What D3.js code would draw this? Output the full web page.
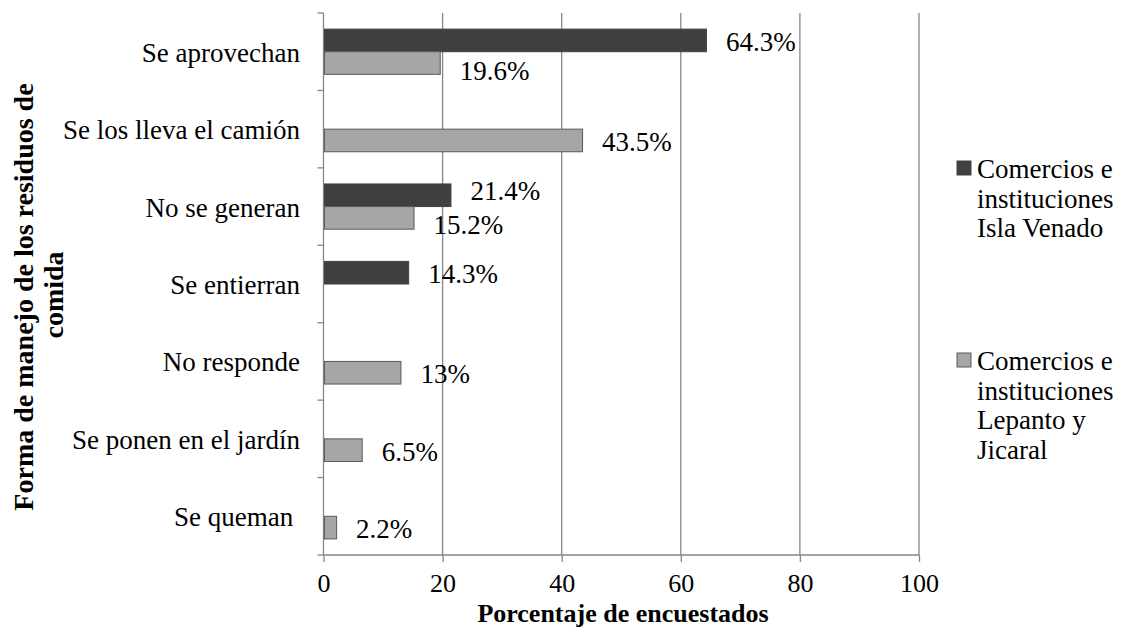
<!DOCTYPE html>
<html><head><meta charset="utf-8">
<script src="https://cdn.jsdelivr.net/npm/d3@7"></script>
<style>
body{margin:0;background:#fff;}
svg{font-family:"Liberation Serif","Times New Roman",serif;}
text{white-space:pre;}
</style></head>
<body><svg id="c" width="1130" height="627"></svg>
<script>
const categories = ["Se aprovechan","Se los lleva el camión","No se generan","Se entierran","No responde","Se ponen en el jardín","Se queman "];
const seriesNames = ["Comercios e instituciones Isla Venado","Comercios e instituciones Lepanto y Jicaral"];
const islaVenado = [64.3, null, 21.4, 14.3, null, null, null];
const lepantoJicaral = [19.6, 43.5, 15.2, null, 13, 6.5, 2.2];
const valueLabels = [["64.3%", null, "21.4%", "14.3%", null, null, null],["19.6%","43.5%","15.2%",null,"13%","6.5%","2.2%"]];
const xTicks = [0,20,40,60,80,100];
const legendLines = [["Comercios e","instituciones","Isla Venado"],["Comercios e","instituciones","Lepanto y","Jicaral"]];
const xTitle = "Porcentaje de encuestados";
const yTitleLines = ["Forma de manejo de los residuos de","comida"];

const fills = ["#404040","#a6a6a6"];
const strokes = ["#404040","#595959"];
const FS = 27;
const svg = d3.select("#c");
const x = d3.scaleLinear().domain([0,100]).range([323.5,919]);
const y = d3.scaleBand().domain(categories).range([13,555]).paddingInner(0.416).paddingOuter(0.208);
const ys = d3.scaleBand().domain([0,1]).range([0,y.bandwidth()]);
const gridColor = "#868686";

// gridlines
svg.append("g").selectAll("line").data(xTicks.slice(1)).join("line")
  .attr("x1",d=>x(d)).attr("x2",d=>x(d)).attr("y1",13).attr("y2",555)
  .attr("stroke",gridColor).attr("stroke-width",1.3);

// y axis
const yAxisG = svg.append("g").attr("transform","translate("+x(0)+",0)");
yAxisG.append("line").attr("x1",0).attr("x2",0).attr("y1",13).attr("y2",555).attr("stroke",gridColor).attr("stroke-width",1.3);
const catBounds = categories.map(c=>y(c)-y.step()*y.paddingInner()/2).concat([555]);
yAxisG.selectAll("line.t").data(catBounds).join("line").attr("class","t")
  .attr("x1",-6).attr("x2",0).attr("y1",d=>d).attr("y2",d=>d).attr("stroke",gridColor).attr("stroke-width",1.3);

// x axis
const xAxis = d3.axisBottom(x).tickValues(xTicks).tickSize(7).tickPadding(0).tickFormat(d3.format("d"));
const xg = svg.append("g").attr("transform","translate(0,555)").call(xAxis);
xg.attr("font-family",null);
xg.select(".domain").attr("stroke",gridColor).attr("stroke-width",1.3).attr("d","M"+x(0)+",0H"+x(100));
xg.selectAll(".tick line").attr("stroke",gridColor).attr("stroke-width",1.3);
xg.selectAll(".tick text").attr("font-family","Liberation Serif").attr("font-size",26).attr("fill","#000")
  .attr("y",37).attr("dy",null);

// category labels
svg.append("g").selectAll("text").data(categories).join("text")
  .attr("x",300).attr("y",d=>y(d)+y.bandwidth()/2+10).attr("text-anchor","end")
  .attr("font-size",FS).attr("fill","#000").text(d=>d);

// bars
const series = [islaVenado, lepantoJicaral];
series.forEach((vals,si)=>{
  const data = categories.map((c,i)=>({c,v:vals[i],lab:valueLabels[si][i],i})).filter(d=>d.v!=null);
  svg.append("g").selectAll("rect").data(data).join("rect")
    .attr("x",x(0)+1).attr("y",d=>y(d.c)+ys(si)).attr("width",d=>x(d.v)-x(0)-1).attr("height",ys.bandwidth())
    .attr("fill",fills[si]).attr("stroke",strokes[si]).attr("stroke-width",1);
  svg.append("g").selectAll("text").data(data).join("text")
    .attr("x",d=>x(d.v)+19.5)
    .attr("y",d=>{
      const a = islaVenado[d.i], b = lepantoJicaral[d.i];
      let off = 10.5;
      if (a!=null && b!=null) {
        if (si===1) off += 6;
        else if (Math.abs(x(a)-x(b)) < 75) off -= 6;
      }
      return y(d.c)+ys(si)+ys.bandwidth()/2+off;})
    .attr("font-size",FS).attr("fill","#000").text(d=>d.lab);
});

// x title
svg.append("text").attr("x",623).attr("y",622).attr("text-anchor","middle")
  .attr("font-weight","bold").attr("font-size",26).attr("fill","#000").text(xTitle);

// y title
const yt = svg.append("g");
yt.append("text").attr("transform","translate(33,297) rotate(-90)").attr("text-anchor","middle")
  .attr("font-weight","bold").attr("font-size",28).text(yTitleLines[0]);
yt.append("text").attr("transform","translate(63,295) rotate(-90)").attr("text-anchor","middle")
  .attr("font-weight","bold").attr("font-size",28).text(yTitleLines[1]);

// legend
const legBase = [178, 370];
legendLines.forEach((lines,si)=>{
  const g = svg.append("g");
  g.append("rect").attr("x",957).attr("y",legBase[si]-17).attr("width",14).attr("height",14)
    .attr("fill",fills[si]).attr("stroke",strokes[si]).attr("stroke-width",1);
  g.selectAll("text").data(lines).join("text").attr("x",977).attr("y",(d,i)=>legBase[si]+i*29.5)
    .attr("font-size",FS).attr("fill","#000").text(d=>d);
});
</script></body></html>
